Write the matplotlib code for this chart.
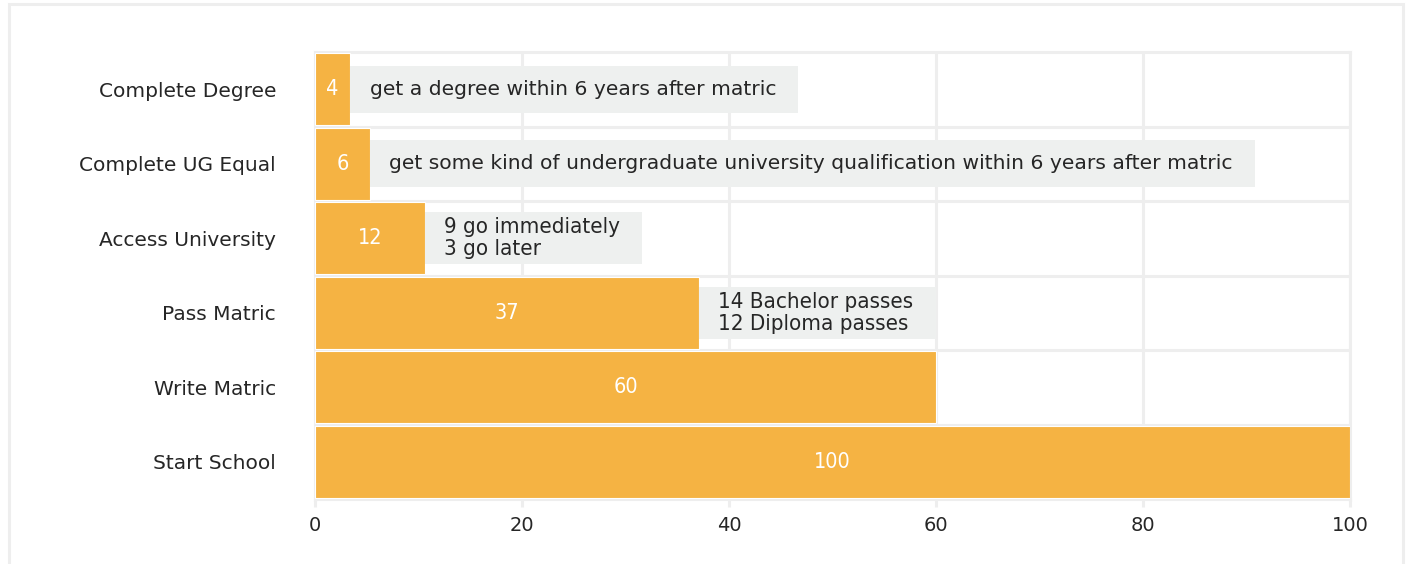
import matplotlib.pyplot as plt
from matplotlib.patches import Rectangle

# data (bottom to top)
stages = ['Start School', 'Write Matric', 'Pass Matric', 'Access University',
          'Complete UG Equal', 'Complete Degree']
values = [100, 60, 37.1, 10.6, 5.3, 3.4]
value_labels = ['100', '60', '37', '12', '6', '4']
notes = ['', '',
         '14 Bachelor passes\n12 Diploma passes',
         '9 go immediately\n3 go later',
         'get some kind of undergraduate university qualification within 6 years after matric',
         'get a degree within 6 years after matric']
xticks = [0, 20, 40, 60, 80, 100]

bar_color = '#F5B343'
grid_color = '#EEEEEE'
note_bg = '#EEF0EF'
text_color = '#262626'

plt.rcParams['font.family'] = ['DejaVu Sans']

fig = plt.figure(figsize=(14.08, 5.64), dpi=100)
fig.patch.set_facecolor('white')
ax = fig.add_axes([315 / 1408, 1 - 499 / 564, 1035 / 1408, 447 / 564])

# outer frame around the whole chart
fig.patches.append(Rectangle((8.5 / 1408, -0.05), 1394 / 1408, 1.05 - 3.5 / 564,
                             transform=fig.transFigure, fill=False,
                             edgecolor=grid_color, linewidth=2.2, zorder=0))

ypos = list(range(len(stages)))
ax.barh(ypos, values, height=0.97, color=bar_color, edgecolor='white',
        linewidth=0.8, zorder=3)

ax.set_xlim(0, 100)
ax.set_ylim(-0.5, len(stages) - 0.5)
ax.set_xticks(xticks)
ax.set_yticks(ypos)
ax.set_yticklabels(stages, fontsize=14.5, color=text_color)
ax.tick_params(axis='y', length=0, pad=28)
ax.tick_params(axis='x', length=6, width=2.2, color=grid_color, pad=6,
               labelsize=14, labelcolor=text_color)

for x in xticks:
    ax.axvline(x, color=grid_color, linewidth=2.2, zorder=1)
for y in ypos[:-1]:
    ax.axhline(y + 0.5, color=grid_color, linewidth=2.2, zorder=1)
for s in ax.spines.values():
    s.set_color(grid_color)
    s.set_linewidth(2.2)
    s.set_zorder(1)

# value labels inside bars
for y, v, lab in zip(ypos, values, value_labels):
    ax.text(v / 2, y, lab, color='white', ha='center', va='center',
            fontsize=15.5, fontstretch='condensed', zorder=5)

# notes next to bars
note_texts = []
for y, v, note in zip(ypos, values, notes):
    if not note:
        continue
    two = '\n' in note
    t = ax.annotate(note, xy=(v, y), xytext=(14, 0), textcoords='offset points',
                    ha='left', va='center', fontsize=16 if two else 14.6,
                    fontstretch='condensed' if two else 'normal',
                    linespacing=1.1, color=text_color, zorder=6)
    note_texts.append((t, y, v))

fig.canvas.draw()
renderer = fig.canvas.get_renderer()
px_per_y = ax.get_window_extent().height / len(stages)
for t, y, v in note_texts:
    ext = t.get_window_extent(renderer)
    x_end = ax.transData.inverted().transform((ext.x1 + 22, 0))[0]
    h = max(ext.height + 10, 47) / px_per_y
    ax.add_patch(Rectangle((v, y - h / 2), x_end - v, h, facecolor=note_bg,
                           edgecolor='none', zorder=4))

fig.savefig('out.png', dpi=100, facecolor='white')
